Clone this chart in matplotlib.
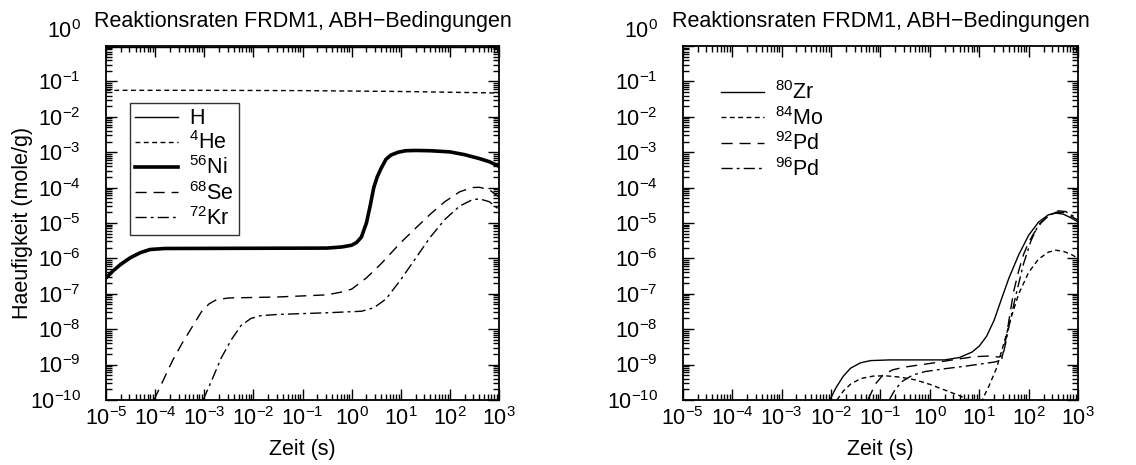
import numpy as np
import matplotlib
matplotlib.use("Agg")
import matplotlib.pyplot as plt
import matplotlib.transforms as mtransforms
from matplotlib.ticker import LogLocator, NullFormatter

plt.rcParams['font.family'] = ['Liberation Sans', 'DejaVu Sans']
plt.rcParams['mathtext.fontset'] = 'custom'
plt.rcParams['mathtext.rm'] = 'Liberation Sans'
plt.rcParams['mathtext.it'] = 'Liberation Sans'
plt.rcParams['mathtext.default'] = 'regular'

title = "Reaktionsraten FRDM1, ABH\u2212Bedingungen"
y_ticks = [1e-10, 1e-9, 1e-8, 1e-7, 1e-6, 1e-5, 1e-4, 1e-3, 1e-2, 1e-1, 1e0]
x_ticks = [1e-5, 1e-4, 1e-3, 1e-2, 1e-1, 1e0, 1e1, 1e2, 1e3]

# left panel: H, 4He, 56Ni, 68Se, 72Kr
t_h = [1e-5, 1e3]
y_h = [0.95, 0.95]

t_he = [1e-5, 1e-3, 1e-1, 10, 1000]
y_he = [0.056, 0.056, 0.055, 0.052, 0.047]

t_ni = [1e-5, 1.41e-5, 2.0e-5, 3.16e-5, 5.0e-5, 7.9e-5, 1.58e-4, 0.316, 0.631, 1.0,
        1.26, 1.58, 2.0, 2.4, 2.82, 3.31, 3.98, 5.0, 6.31, 8.9, 12.6, 20, 39.8, 100,
        200, 398, 631, 1000]
y_ni = [2.8e-7, 4.5e-7, 6.8e-7, 1.05e-6, 1.45e-6, 1.78e-6, 1.9e-6, 1.95e-6, 2.1e-6,
        2.35e-6, 2.8e-6, 4.0e-6, 1.0e-5, 3.2e-5, 1.0e-4, 2.0e-4, 3.5e-4, 6.3e-4,
        8.3e-4, 1.0e-3, 1.1e-3, 1.12e-3, 1.1e-3, 1.02e-3, 8.5e-4, 6.6e-4, 5.4e-4,
        4.0e-4]

t_se = [9.5e-5, 1.41e-4, 2.24e-4, 3.55e-4, 5.6e-4, 8.9e-4, 1.26e-3, 1.78e-3, 3.16e-3,
        3.16e-2, 0.316, 0.631, 1, 2.0, 4.0, 10, 20, 40, 79, 158, 282, 398, 631, 1000]
y_se = [1e-10, 3.2e-10, 1.26e-9, 4.0e-9, 1.12e-8, 3.2e-8, 5.2e-8, 6.8e-8, 7.6e-8,
        8.1e-8, 9.3e-8, 1.12e-7, 1.35e-7, 2.8e-7, 7.1e-7, 2.8e-6, 7.1e-6, 1.78e-5,
        4.0e-5, 7.6e-5, 1.0e-4, 1.02e-4, 8.7e-5, 5.4e-5]

t_kr = [9.5e-4, 1.41e-3, 2.24e-3, 3.55e-3, 5.6e-3, 8.9e-3, 1.41e-2, 3.16e-2, 0.316,
        1.58, 2.82, 5.0, 10, 20, 40, 79, 158, 282, 398, 631, 1000]
y_kr = [1e-10, 3.5e-10, 1.58e-9, 5.0e-9, 1.26e-8, 2.0e-8, 2.4e-8, 2.6e-8, 2.9e-8,
        3.2e-8, 4.0e-8, 7.1e-8, 2.5e-7, 1.0e-6, 4.0e-6, 1.26e-5, 3.0e-5, 4.5e-5,
        4.8e-5, 4.0e-5, 2.4e-5]

# right panel: 80Zr, 84Mo, 92Pd, 96Pd
t_zr = [9.5e-3, 1.26e-2, 1.78e-2, 2.5e-2, 3.98e-2, 6.3e-2, 0.158, 2.0, 4.0, 7.1, 10,
        14.1, 20, 28.2, 40, 63, 100, 158, 251, 355, 501, 708, 1000]
y_zr = [1e-10, 2.2e-10, 4.7e-10, 7.9e-10, 1.12e-9, 1.29e-9, 1.35e-9, 1.35e-9, 1.58e-9,
        2.24e-9, 3.3e-9, 6.3e-9, 1.78e-8, 7.1e-8, 2.8e-7, 1.26e-6, 4.5e-6, 1.05e-5,
        1.7e-5, 1.9e-5, 1.78e-5, 1.41e-5, 1.07e-5]

t_mo = [1.32e-2, 1.78e-2, 2.5e-2, 3.98e-2, 7.1e-2, 0.126, 0.251, 0.5, 1, 2.0, 4.0, 6.3,
        8.9, 11.5, 15.8, 22.4, 31.6, 44.7, 63, 100, 158, 251, 355, 501, 708, 1000]
y_mo = [1e-10, 1.78e-10, 2.8e-10, 4.0e-10, 4.7e-10, 4.8e-10, 4.4e-10, 3.7e-10,
        2.75e-10, 1.9e-10, 1.32e-10, 9.5e-11, 5e-11, 1e-10, 2.5e-10, 7.9e-10, 4.0e-9,
        2.24e-8, 1.0e-7, 4.0e-7, 9.5e-7, 1.5e-6, 1.7e-6, 1.58e-6, 1.32e-6, 1.0e-6]

t_pd92 = [5.6e-2, 7.9e-2, 0.112, 0.178, 0.316, 1, 3.16, 7.9, 15.8, 25.1, 29.5, 35.5,
          42.7, 50, 63, 79, 100, 126, 178, 251, 355, 501, 708, 1000]
y_pd92 = [1e-10, 2.8e-10, 5.0e-10, 7.1e-10, 8.5e-10, 1.07e-9, 1.38e-9, 1.66e-9,
          1.74e-9, 1.62e-9, 1.78e-9, 6.3e-9, 3.2e-8, 1.2e-7, 4.5e-7, 1.3e-6, 2.8e-6,
          5.0e-6, 1.0e-5, 1.58e-5, 2.0e-5, 2.0e-5, 1.58e-5, 1.2e-5]

t_pd96 = [0.151, 0.2, 0.282, 0.447, 0.794, 2.0, 5.0, 10, 20, 28.2, 33.1, 41.7, 56, 79,
          112, 158, 251, 398, 562, 794, 1000]
y_pd96 = [1e-10, 2.0e-10, 3.4e-10, 5.0e-10, 6.3e-10, 7.6e-10, 8.9e-10, 1.02e-9,
          1.17e-9, 1.32e-9, 3.2e-9, 1.6e-8, 1.0e-7, 7.1e-7, 3.2e-6, 8.9e-6, 1.6e-5,
          2.2e-5, 2.1e-5, 1.58e-5, 1.26e-5]

short_dash = (0, (3.5, 2.5))
long_dash = (0, (8, 5))
dash_dot = (0, (8, 3, 2, 3))
fs = 15.5


def style_axes(ax):
    ax.set_xscale('log')
    ax.set_yscale('log')
    ax.set_xlim(1e-5, 1e3)
    ax.set_ylim(1e-10, 1)
    ax.set_xticks(x_ticks)
    ax.set_yticks(y_ticks)
    ax.xaxis.set_minor_locator(LogLocator(base=10, subs=np.arange(2, 10), numticks=20))
    ax.yaxis.set_minor_locator(LogLocator(base=10, subs=np.arange(2, 10), numticks=20))
    ax.xaxis.set_minor_formatter(NullFormatter())
    ax.yaxis.set_minor_formatter(NullFormatter())
    ax.tick_params(which='both', direction='in', top=True, right=True,
                   labelsize=fs, width=1)
    ax.tick_params(which='major', length=8)
    ax.tick_params(which='minor', length=4.5)
    ax.tick_params(axis='x', which='major', pad=5)
    ax.tick_params(axis='y', which='major', pad=18)
    for sp in ax.spines.values():
        sp.set_linewidth(1.3)
    ax.set_title(title, fontsize=fs, pad=14)
    ax.set_xlabel('Zeit (s)', fontsize=fs, labelpad=7)


def lift_top_label(ax):
    # the 10^0 label sits above the top edge in the original
    fig.canvas.draw()
    lab = ax.yaxis.get_major_ticks()[-1].label1
    off = mtransforms.ScaledTranslation(0, 0.17, fig.dpi_scale_trans)
    lab.set_transform(lab.get_transform() + off)


fig = plt.figure(figsize=(11.36, 4.65), dpi=100)
ax1 = fig.add_axes([0.0933, 0.140, 0.346, 0.761])
ax2 = fig.add_axes([0.601, 0.140, 0.348, 0.761])

ax1.plot(t_h, y_h, color='black', lw=1, label='H')
ax1.plot(t_he, y_he, color='black', lw=1, linestyle=short_dash, label='$^{4}$He')
ax1.plot(t_ni, y_ni, color='black', lw=2.6, label='$^{56}$Ni')
ax1.plot(t_se, y_se, color='black', lw=1, linestyle=long_dash, label='$^{68}$Se')
ax1.plot(t_kr, y_kr, color='black', lw=1, linestyle=dash_dot, label='$^{72}$Kr')
style_axes(ax1)
ax1.set_ylabel('Haeufigkeit (mole/g)', fontsize=fs, labelpad=-2)
leg1 = ax1.legend(loc='upper left', bbox_to_anchor=(0.061, 0.839), fontsize=fs,
                  frameon=True, fancybox=False, edgecolor='black', handlelength=2.0,
                  handletextpad=0.5, labelspacing=0.1, borderpad=0.25,
                  borderaxespad=0)
leg1.get_frame().set_linewidth(1)

ax2.plot(t_zr, y_zr, color='black', lw=1, label='$^{80}$Zr')
ax2.plot(t_mo, y_mo, color='black', lw=1, linestyle=short_dash, label='$^{84}$Mo')
ax2.plot(t_pd92, y_pd92, color='black', lw=1, linestyle=long_dash, label='$^{92}$Pd')
ax2.plot(t_pd96, y_pd96, color='black', lw=1, linestyle=dash_dot, label='$^{96}$Pd')
style_axes(ax2)
ax2.legend(loc='upper left', bbox_to_anchor=(0.097, 0.90), fontsize=fs, frameon=False,
           handlelength=2.0, handletextpad=0.5, labelspacing=0.12, borderpad=0,
           borderaxespad=0)

lift_top_label(ax1)
lift_top_label(ax2)

fig.savefig('out.png', dpi=100)
